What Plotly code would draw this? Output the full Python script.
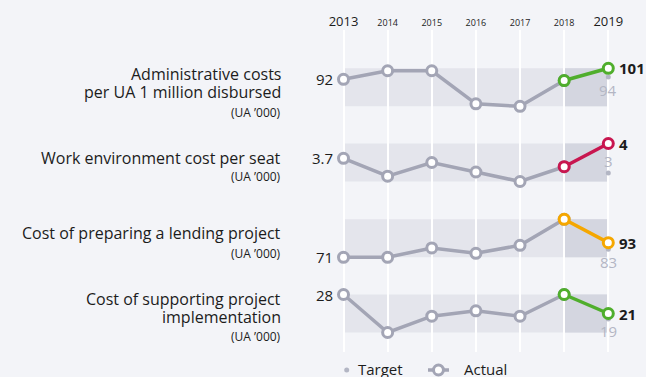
import plotly.graph_objects as go

# ---- data -------------------------------------------------------------
YEARS = [2013, 2014, 2015, 2016, 2017, 2018, 2019]
YEAR_LABELS = ["2013", "2014", "2015", "2016", "2017", "2018", "2019"]

INDICATORS = [
    "Administrative costs<br>per UA 1 million disbursed",
    "Work environment cost per seat",
    "Cost of preparing a lending project",
    "Cost of supporting project<br>implementation",
]
UNIT = "(UA ’000)"

ADMIN_COSTS = [92, 99, 99, 72, 70, 91, 101]
WORK_ENV_COST = [3.7, 2.85, 3.5, 3.05, 2.6, 3.3, 4.4]
LENDING_PREP_COST = [71, 71, 85, 77, 89, 128, 93]
SUPPORT_IMPL_COST = [28, 14, 20, 22, 20, 28, 21]
ACTUALS = [ADMIN_COSTS, WORK_ENV_COST, LENDING_PREP_COST, SUPPORT_IMPL_COST]

TARGETS_2019 = [94, 3.0, 83, 19]

# ---- styling ----------------------------------------------------------
W, H = 646, 377
PLOT_TOP, PLOT_BOTTOM = 30, 352          # pixel rows of the plotting area
X_FIRST_PX, X_LAST_PX = 343.5, 608.3     # pixel columns of first / last year
BAND_TOP_PX = [68.3, 143.5, 219.3, 294.5]
BAND_H = 38.0

BG = "#f3f4f8"
BAND_LIGHT = "#e4e5ec"
BAND_DARK = "#d4d6e0"
GREY = "#a3a5b5"
TARGET_GREY = "#b3b6c4"
TEXT = "#1c1c1c"
ROW_COLORS = ["#4fae2c", "#c8164f", "#f5a700", "#4fae2c"]
TARGET_SHIFT = [-13, 12, -13, -12]      # label below / above the target dot
LABEL_Y_PX = [83, 157.7, 233, 308]      # centre of each indicator name block
UNIT_Y_PX = [112.7, 176.7, 253, 336.7]
LINE_STEP = 18                          # spacing of wrapped name lines
LABEL_RIGHT_PX = 283
FONT = "Open Sans"


def paper_x(px):
    return px / W


def paper_y(py):
    return (PLOT_BOTTOM - py) / (PLOT_BOTTOM - PLOT_TOP)


# x range so that the first and last year fall on the chosen columns
px_per_year = (X_LAST_PX - X_FIRST_PX) / (YEARS[-1] - YEARS[0])
x0 = YEARS[0] - X_FIRST_PX / px_per_year
x1 = x0 + W / px_per_year

fig = go.Figure()
layout_axes = {}
shapes = []
annotations = []

for i, (vals, target, color) in enumerate(zip(ACTUALS, TARGETS_2019, ROW_COLORS)):
    yname = "y" if i == 0 else f"y{i + 1}"
    axkey = "yaxis" if i == 0 else f"yaxis{i + 1}"

    vmin, vmax = min(vals), max(vals)
    top_px = BAND_TOP_PX[i]
    bot_px = top_px + BAND_H
    per_px = (vmax - vmin) / (bot_px - top_px)
    hi = vmax + (top_px - PLOT_TOP) * per_px
    lo = vmin - (PLOT_BOTTOM - bot_px) * per_px
    ax = dict(range=[lo, hi], visible=False, fixedrange=True)
    if i > 0:
        ax["overlaying"] = "y"
    layout_axes[axkey] = ax

    # shaded value band, darker over the latest year
    shapes.append(dict(type="rect", xref="x", yref=yname, x0=YEARS[0], x1=YEARS[-1],
                       y0=vmin, y1=vmax, fillcolor=BAND_LIGHT, line_width=0, layer="below"))
    shapes.append(dict(type="rect", xref="x", yref=yname, x0=YEARS[-2], x1=YEARS[-1],
                       y0=vmin, y1=vmax, fillcolor=BAND_DARK, line_width=0, layer="below"))

    # 2019 target dot
    fig.add_trace(go.Scatter(
        x=[YEARS[-1]], y=[target], yaxis=yname, mode="markers",
        marker=dict(size=5, color=TARGET_GREY), name="Target",
        showlegend=False, hoverinfo="skip"))

    # actual series up to 2018
    fig.add_trace(go.Scatter(
        x=YEARS[:-1], y=vals[:-1], yaxis=yname, mode="lines+markers",
        line=dict(color=GREY, width=3.5),
        marker=dict(size=10, color="white", line=dict(color=GREY, width=3)),
        name="Actual", showlegend=False, hoverinfo="skip"))

    # latest change highlighted
    fig.add_trace(go.Scatter(
        x=YEARS[-2:], y=vals[-2:], yaxis=yname, mode="lines+markers",
        line=dict(color=color, width=3.5),
        marker=dict(size=10, color="white", line=dict(color=color, width=3)),
        showlegend=False, hoverinfo="skip"))

    # value labels
    annotations.append(dict(x=YEARS[0], y=vals[0], xref="x", yref=yname,
                            text=f"{vals[0]:g}", showarrow=False, xanchor="right",
                            yanchor="middle", xshift=-9, font=dict(size=15, color=TEXT)))
    annotations.append(dict(x=YEARS[-1], y=vals[-1], xref="x", yref=yname,
                            text=f"<b>{vals[-1]:.0f}</b>", showarrow=False,
                            xanchor="left", yanchor="middle", xshift=9,
                            font=dict(size=15, color=TEXT)))
    annotations.append(dict(x=YEARS[-1], y=target, xref="x", yref=yname,
                            text=f"{target:.0f}", showarrow=False, yanchor="middle",
                            yshift=TARGET_SHIFT[i], font=dict(size=15, color=TARGET_GREY)))

    # indicator names, one annotation per line for tighter leading
    lines = INDICATORS[i].split("<br>")
    first = LABEL_Y_PX[i] - LINE_STEP * (len(lines) - 1) / 2
    for k, line in enumerate(lines):
        annotations.append(dict(x=paper_x(LABEL_RIGHT_PX), y=paper_y(first + k * LINE_STEP),
                                xref="paper", yref="paper", text=line, showarrow=False,
                                xanchor="right", yanchor="middle",
                                font=dict(size=16, color=TEXT)))
    annotations.append(dict(x=paper_x(LABEL_RIGHT_PX), y=paper_y(UNIT_Y_PX[i]), xref="paper",
                            yref="paper", text=UNIT, showarrow=False,
                            xanchor="right", yanchor="middle",
                            font=dict(size=12, color=TEXT)))

# legend drawn by hand along the bottom edge
LEG_Y = 369
r = 2.5
shapes.append(dict(type="circle", xref="paper", yref="paper",
                   x0=paper_x(346.7 - r), x1=paper_x(346.7 + r),
                   y0=paper_y(LEG_Y + 1 + r), y1=paper_y(LEG_Y + 1 - r),
                   fillcolor=TARGET_GREY, line_width=0))
shapes.append(dict(type="line", xref="paper", yref="paper",
                   x0=paper_x(428), x1=paper_x(449), y0=paper_y(LEG_Y + 1), y1=paper_y(LEG_Y + 1),
                   line=dict(color=GREY, width=3.5)))
r = 5
shapes.append(dict(type="circle", xref="paper", yref="paper",
                   x0=paper_x(438.5 - r), x1=paper_x(438.5 + r),
                   y0=paper_y(LEG_Y + 1 + r), y1=paper_y(LEG_Y + 1 - r),
                   fillcolor="white", line=dict(color=GREY, width=3)))
annotations.append(dict(x=paper_x(356), y=paper_y(LEG_Y), xref="paper", yref="paper",
                        text="Target", showarrow=False, xanchor="left", yanchor="middle",
                        font=dict(size=15, color=TEXT)))
annotations.append(dict(x=paper_x(462), y=paper_y(LEG_Y), xref="paper", yref="paper",
                        text="Actual", showarrow=False, xanchor="left", yanchor="middle",
                        font=dict(size=15, color=TEXT)))

# year ticks: first and last year emphasised
tick_text = [
    t if k in (0, len(YEAR_LABELS) - 1) else f"<span style='font-size:9px'>{t}</span>"
    for k, t in enumerate(YEAR_LABELS)
]

fig.update_layout(
    width=W, height=H,
    margin=dict(l=0, r=0, t=PLOT_TOP, b=H - PLOT_BOTTOM, pad=0),
    paper_bgcolor=BG, plot_bgcolor=BG,
    font=dict(family=FONT, color=TEXT),
    showlegend=False,
    xaxis=dict(range=[x0, x1], side="top", tickvals=YEARS, ticktext=tick_text,
               tickfont=dict(size=13, color=TEXT), ticks="", ticklen=0,
               showgrid=True, gridcolor="white", gridwidth=1.5,
               zeroline=False, showline=False, fixedrange=True),
    shapes=shapes,
    annotations=annotations,
    **layout_axes,
)

fig.write_html("out.html")
